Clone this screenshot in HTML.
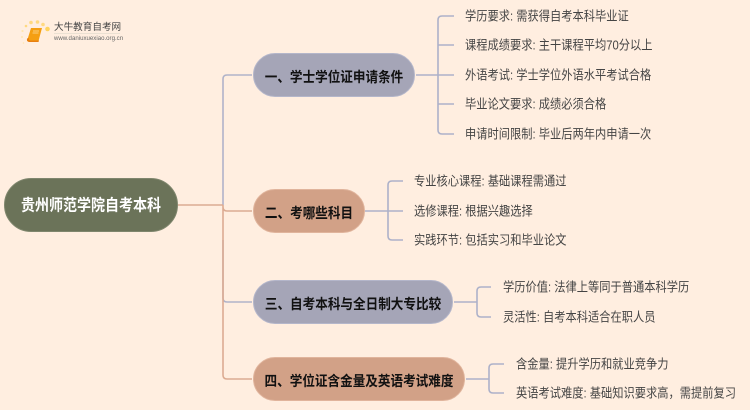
<!DOCTYPE html>
<html lang="zh">
<head>
<meta charset="utf-8">
<style>
html,body{margin:0;padding:0;background:#ffeee0;}
#c{position:relative;width:750px;height:410px;overflow:hidden;background:#ffeee0;font-family:"Liberation Sans","Noto Sans CJK SC",sans-serif;}
svg{position:absolute;left:0;top:0;}
.n{position:absolute;box-sizing:border-box;display:flex;align-items:center;justify-content:center;white-space:nowrap;font-weight:700;color:#111;font-size:12.600px;height:44px;border-radius:22px;}
.n span{display:inline-block;transform:scaleY(1.14);}
.g{background:#a5a5b7;border:1px solid #b4b6ca;}
.o{background:#d2a187;border:1px solid #e0b49c;}
.l{position:absolute;white-space:nowrap;font-size:11.250px;line-height:16px;height:16px;color:#444;transform:scaleY(1.14);transform-origin:left center;}
</style>
</head>
<body>
<div id="c">
<svg width="750" height="410" viewBox="0 0 750 410" fill="none">
  <path d="M223 205V79Q223 75 227 75H252" stroke="#b0b3c9" stroke-width="1.600"/>
  <path d="M223 240V298Q223 302 227 302H252" stroke="#b0b3c9" stroke-width="1.600"/>
  <path d="M178 205H223M223 205V207Q223 211 227 211H252M223 205V375Q223 379 227 379H252" stroke="#dcab92" stroke-width="1.600"/>
  <g stroke="#adb1c9" stroke-width="1.600">
    <path d="M416 75H454M454 16H442Q438 16 438 20V130Q438 134 442 134H454M438 45H454M438 104H454"/>
    <path d="M365 211H403M403 181H392Q388 181 388 185V236Q388 240 392 240H403"/>
    <path d="M454 302H477M491 287H481Q477 287 477 291V313Q477 317 481 317H491"/>
    <path d="M466 379H489M504 364H493Q489 364 489 368V389Q489 393 493 393H504"/>
  </g>
  <g fill="#ffd980">
    <circle cx="47.500" cy="29" r="2.300" fill="#ffd35e"/>
    <circle cx="43" cy="24.500" r="1.800"/>
    <circle cx="37.500" cy="22" r="1.800"/>
    <circle cx="31" cy="22.500" r="1.800"/>
    <circle cx="26" cy="26" r="1.300"/>
    <circle cx="22.500" cy="31" r="1.100" fill="#ffe6b0"/>
    <circle cx="22" cy="37" r="1" fill="#ffe6b0"/>
    <circle cx="23.500" cy="43" r=".8" fill="#ffe6b0"/>
  </g>
  <path d="M31 28H42L38.500 41H27Z" fill="#f59f12"/>
  <path d="M27 38.500Q26.500 41.500 29 42H38.500L39 40.500H30Q28.500 40 29 38Z" fill="#e87f10"/>
  <path d="M33 31H39M32.500 33H38.500" stroke="#fde0a0" stroke-width=".8"/>
  <path d="M54 33.500H120" stroke="#e4dccf" stroke-width=".7"/>
</svg>

<div style="position:absolute;left:54px;top:21.500px;font-size:9.600px;line-height:12px;color:#444;white-space:nowrap;">大牛教育自考网</div>
<div style="position:absolute;left:54px;top:35px;font-size:6.100px;line-height:7px;color:#666;white-space:nowrap;">www.daniuxuexiao.org.cn</div>

<div class="n" style="left:4px;top:178px;width:174px;height:54px;border-radius:27px;background:#6b7359;border:1px solid #7f866d;color:#fff;font-size:14px;"><span>贵州师范学院自考本科</span></div>

<div class="n g" style="left:253px;top:53px;width:162px;"><span>一、学士学位证申请条件</span></div>
<div class="n o" style="left:253px;top:189px;width:112px;"><span>二、考哪些科目</span></div>
<div class="n g" style="left:253px;top:280px;width:200px;"><span>三、自考本科与全日制大专比较</span></div>
<div class="n o" style="left:253px;top:357px;width:212px;"><span>四、学位证含金量及英语考试难度</span></div>

<div class="l" style="left:465px;top:9px;">学历要求: 需获得自考本科毕业证</div>
<div class="l" style="left:465px;top:38px;">课程成绩要求: 主干课程平均70分以上</div>
<div class="l" style="left:465px;top:68px;">外语考试: 学士学位外语水平考试合格</div>
<div class="l" style="left:465px;top:97px;">毕业论文要求: 成绩必须合格</div>
<div class="l" style="left:465px;top:127px;">申请时间限制: 毕业后两年内申请一次</div>

<div class="l" style="left:414px;top:174px;">专业核心课程: 基础课程需通过</div>
<div class="l" style="left:414px;top:204px;">选修课程: 根据兴趣选择</div>
<div class="l" style="left:414px;top:233px;">实践环节: 包括实习和毕业论文</div>

<div class="l" style="left:503px;top:280px;">学历价值: 法律上等同于普通本科学历</div>
<div class="l" style="left:503px;top:310px;">灵活性: 自考本科适合在职人员</div>

<div class="l" style="left:516px;top:357px;">含金量: 提升学历和就业竞争力</div>
<div class="l" style="left:516px;top:386px;">英语考试难度: 基础知识要求高，需提前复习</div>
</div>
</body>
</html>
